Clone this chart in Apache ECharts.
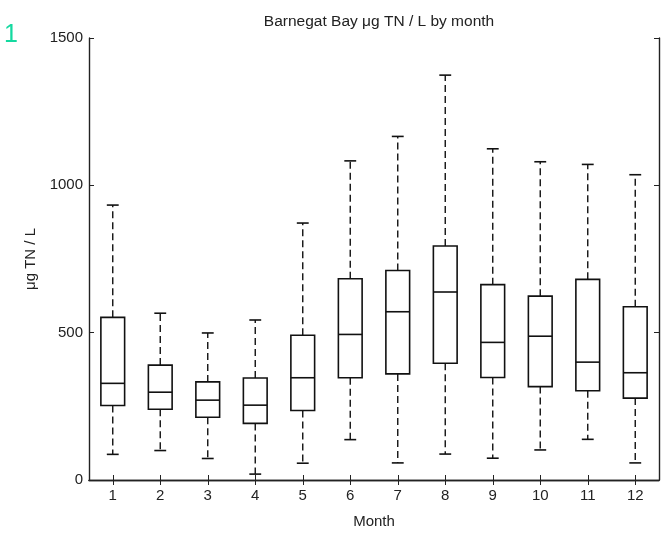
<!DOCTYPE html>
<html>
<head>
<meta charset="utf-8">
<script src="https://cdn.jsdelivr.net/npm/echarts@6/dist/echarts.min.js"></script>
<style>
html,body{margin:0;padding:0;background:#fff;}
#chart{width:666px;height:534px;}
</style>
</head>
<body>
<div id="chart"></div>
<script>
var months = ['1','2','3','4','5','6','7','8','9','10','11','12'];
var lowerWhisker = [87, 100, 73, 20, 57, 137, 58, 88, 74, 102, 138, 58];
var q1 = [253, 240, 213, 192, 236, 347, 360, 396, 348, 317, 303, 278];
var medianVals = [328, 298, 271, 254, 347, 494, 571, 638, 467, 488, 400, 364];
var q3 = [552, 390, 333, 346, 491, 683, 711, 794, 663, 624, 681, 588];
var upperWhisker = [933, 566, 499, 543, 872, 1083, 1166, 1374, 1124, 1080, 1071, 1036];
var yTicks = [0, 500, 1000, 1500];

var boxData = months.map(function (m, i) {
  return [i, lowerWhisker[i], q1[i], medianVals[i], q3[i], upperWhisker[i]];
});

var lineColor = '#111';
var fontFam = 'Liberation Sans, Arial, sans-serif';

function renderBox(params, api) {
  var idx = api.value(0);
  var lo = api.coord([idx, api.value(1)]);
  var b1 = api.coord([idx, api.value(2)]);
  var md = api.coord([idx, api.value(3)]);
  var b3 = api.coord([idx, api.value(4)]);
  var hi = api.coord([idx, api.value(5)]);
  var band = api.size([1, 0])[0];
  var bw = band * 0.5;
  var cw = band * 0.25;
  var cx = md[0];
  var solid = {stroke: lineColor, lineWidth: 1.6, fill: null};
  var dashed = {stroke: lineColor, lineWidth: 1.4, lineDash: [7, 4]};
  return {
    type: 'group',
    children: [
      {type: 'line', shape: {x1: cx, y1: b3[1], x2: cx, y2: hi[1]}, style: dashed},
      {type: 'line', shape: {x1: cx, y1: b1[1], x2: cx, y2: lo[1]}, style: dashed},
      {type: 'line', shape: {x1: cx - cw / 2, y1: hi[1], x2: cx + cw / 2, y2: hi[1]}, style: solid},
      {type: 'line', shape: {x1: cx - cw / 2, y1: lo[1], x2: cx + cw / 2, y2: lo[1]}, style: solid},
      {type: 'rect', shape: {x: cx - bw / 2, y: b3[1], width: bw, height: b1[1] - b3[1]}, style: {stroke: lineColor, lineWidth: 1.6, fill: '#fff'}},
      {type: 'line', shape: {x1: cx - bw / 2, y1: md[1], x2: cx + bw / 2, y2: md[1]}, style: solid}
    ]
  };
}

var chart = echarts.init(document.getElementById('chart'), null, {renderer: 'canvas'});
var axisLineStyle = {show: true, lineStyle: {color: '#222', width: 1.4}};
var option = {
  backgroundColor: '#fff',
  animation: false,
  title: {
    text: 'Barnegat Bay \u03bcg TN / L by month',
    left: 374, top: 9, textAlign: 'center',
    textStyle: {fontFamily: fontFam, fontSize: 15.5, fontWeight: 'normal', color: '#222'}
  },
  grid: {left: 89, right: 7, top: 38, bottom: 47, containLabel: false},
  xAxis: [{
    type: 'category', data: months, position: 'bottom',
    name: 'Month', nameLocation: 'middle', nameGap: 34,
    nameTextStyle: {fontFamily: fontFam, fontSize: 15, color: '#222'},
    axisLine: axisLineStyle,
    axisTick: {show: true, inside: true, alignWithLabel: true, length: 5, lineStyle: {color: '#222'}},
    axisLabel: {fontFamily: fontFam, fontSize: 15, color: '#222', margin: 8},
    splitLine: {show: false}
  }, {
    type: 'category', data: months, position: 'top',
    axisLine: axisLineStyle,
    axisTick: {show: true, inside: true, alignWithLabel: true, length: 5, lineStyle: {color: '#222'}},
    axisLabel: {show: false}, splitLine: {show: false}
  }],
  yAxis: [{
    type: 'value', min: 0, max: 1500, interval: 500, position: 'left',
    name: '\u03bcg TN / L', nameLocation: 'middle', nameGap: 50, nameRotate: 90,
    nameTextStyle: {fontFamily: fontFam, fontSize: 15, color: '#222'},
    axisLine: axisLineStyle,
    axisTick: {show: true, inside: true, length: 5, lineStyle: {color: '#222'}},
    axisLabel: {fontFamily: fontFam, fontSize: 15, color: '#222', margin: 6,
      formatter: function (v) { return yTicks.indexOf(v) >= 0 ? String(v) : ''; }},
    splitLine: {show: false}
  }, {
    type: 'value', min: 0, max: 1500, interval: 500, position: 'right',
    axisLine: axisLineStyle,
    axisTick: {show: true, inside: true, length: 5, lineStyle: {color: '#222'}},
    axisLabel: {show: false}, splitLine: {show: false}
  }],
  graphic: [{
    type: 'text', left: 4, top: 23,
    style: {text: '1', fontFamily: fontFam, fontSize: 25, fill: '#14d9a0'}
  }],
  series: [{
    type: 'custom',
    xAxisIndex: 0, yAxisIndex: 0,
    renderItem: renderBox,
    encode: {x: 0, y: [1, 2, 3, 4, 5]},
    data: boxData,
    z: 5
  }]
};
chart.setOption(option);
</script>
</body>
</html>
